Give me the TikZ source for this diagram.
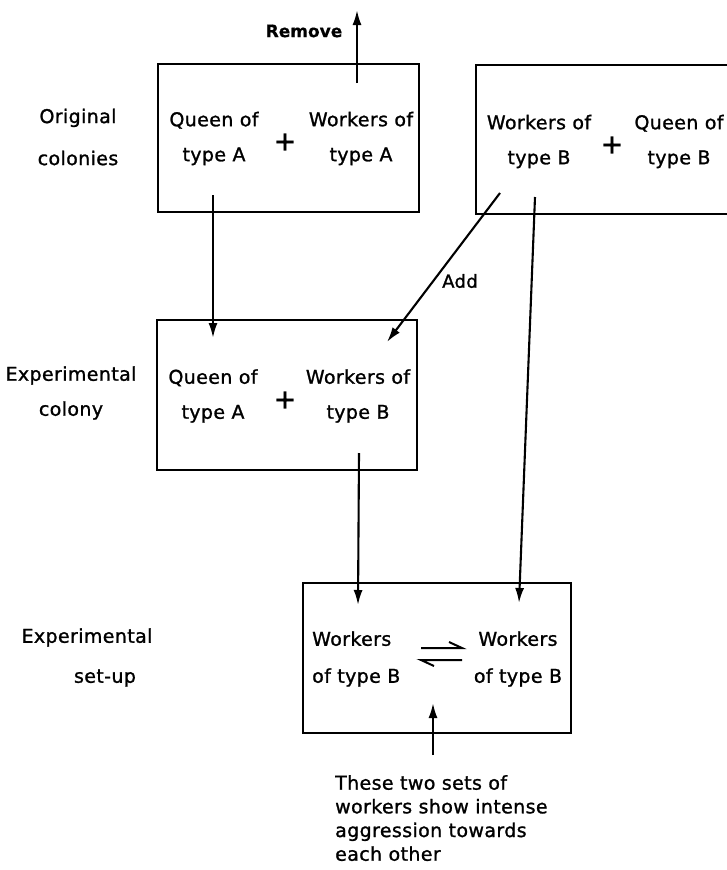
\documentclass[tikz,border=0pt]{standalone}
\usepackage{fontspec}
\setmainfont{DejaVu Sans}[FakeBold=1.2, LetterSpace=2]
\newfontfamily\boldface{DejaVu Sans Bold}[FakeBold=0.6]
\usetikzlibrary{arrows.meta}
\begin{document}
\begin{tikzpicture}[x=1pt,y=-1pt,
  box/.style={draw, line width=2.2pt, inner sep=0pt, rectangle},
  txt/.style={font=\fontsize{19}{35}\selectfont, align=center, inner sep=0pt},
  plus/.style={font=\fontsize{27}{27}\selectfont, inner sep=0pt},
  arr/.style={line width=2.1pt, -{Latex[length=15pt,width=9pt]}},
  harp/.style={line width=2pt, line join=miter},
]
\useasboundingbox (0,0) rectangle (727,870);

% boxes
\node[box, minimum width=261pt, minimum height=148pt] (box1) at (288.5,138) {};
\node[box, minimum width=264pt, minimum height=149pt] (box2) at (608,139.5) {};
\node[box, minimum width=260pt, minimum height=150pt] (box3) at (287,395) {};
\node[box, minimum width=268pt, minimum height=150pt] (box4) at (437,658) {};

% box texts
\node[txt] (q1) at (214,138.5) {Queen of\\type A};
\node[plus] (p1) at (285,142) {+};
\node[txt] (w1) at (361,138.5) {Workers of\\type A};

\node[txt] (w2) at (539,141.5) {Workers of\\type B};
\node[plus] (p2) at (612,145) {+};
\node[txt] (q2) at (679,141.5) {Queen of\\type B};

\node[txt] (q3) at (213,396) {Queen of\\type A};
\node[plus] (p3) at (285,400) {+};
\node[txt] (w3) at (358,396) {Workers of\\type B};

\node[txt, font=\fontsize{19}{37}\selectfont, align=left, anchor=west] (w4) at (312,659) {Workers\\of type B};
\node[txt, font=\fontsize{19}{37}\selectfont] (w5) at (518,659) {Workers\\of type B};

% row labels
\node[txt, font=\fontsize{19}{42}\selectfont] (l1) at (78,137) {Original\\colonies};
\node[txt] (l2) at (71,393) {Experimental\\colony};
\node[txt, font=\fontsize{19}{40}\selectfont] (l3) at (87,657.5) {Experimental\\\hspace*{36pt}set-up};

% remove
\coordinate (rm0) at (357,83);
\coordinate (rm1) at (357,10);
\draw[arr] (rm0) -- (rm1);
\node[font=\fontsize{17}{17}\selectfont\boldface, inner sep=0pt] (remove) at (304,31) {Remove};

% box1 -> box3
\coordinate (a0) at (213,195);
\coordinate (a1) at (213,338);
\draw[arr] (a0) -- (a1);

% add
\coordinate (b0) at (500,193);
\coordinate (b1) at (387,342);
\draw[arr] (b0) -- (b1);
\node[font=\fontsize{18}{18}\selectfont, inner sep=0pt] (add) at (460,281) {Add};

% box2 -> box4
\coordinate (c0) at (535,197);
\coordinate (c1) at (519,603);
\draw[arr] (c0) -- (c1);

% box3 -> box4
\coordinate (d0) at (359,453);
\coordinate (d1) at (358,605);
\draw[arr] (d0) -- (d1);

% harpoons
\coordinate (h1) at (421,648);
\coordinate (h2) at (462,648);
\coordinate (h3) at (462,660);
\coordinate (h4) at (421,660);
\draw[harp] (h1) -- (h2) -- ++(-13,-6);
\draw[harp] (h3) -- (h4) -- ++(13,6);

% bottom note
\coordinate (e0) at (433,755);
\coordinate (e1) at (433,703);
\draw[arr] (e0) -- (e1);
\node[font=\fontsize{19}{23.7}\selectfont, align=left, inner sep=0pt, anchor=north west] (note) at (335,775)
  {These two sets of\\workers show intense\\aggression towards\\each other};
\end{tikzpicture}
\end{document}
